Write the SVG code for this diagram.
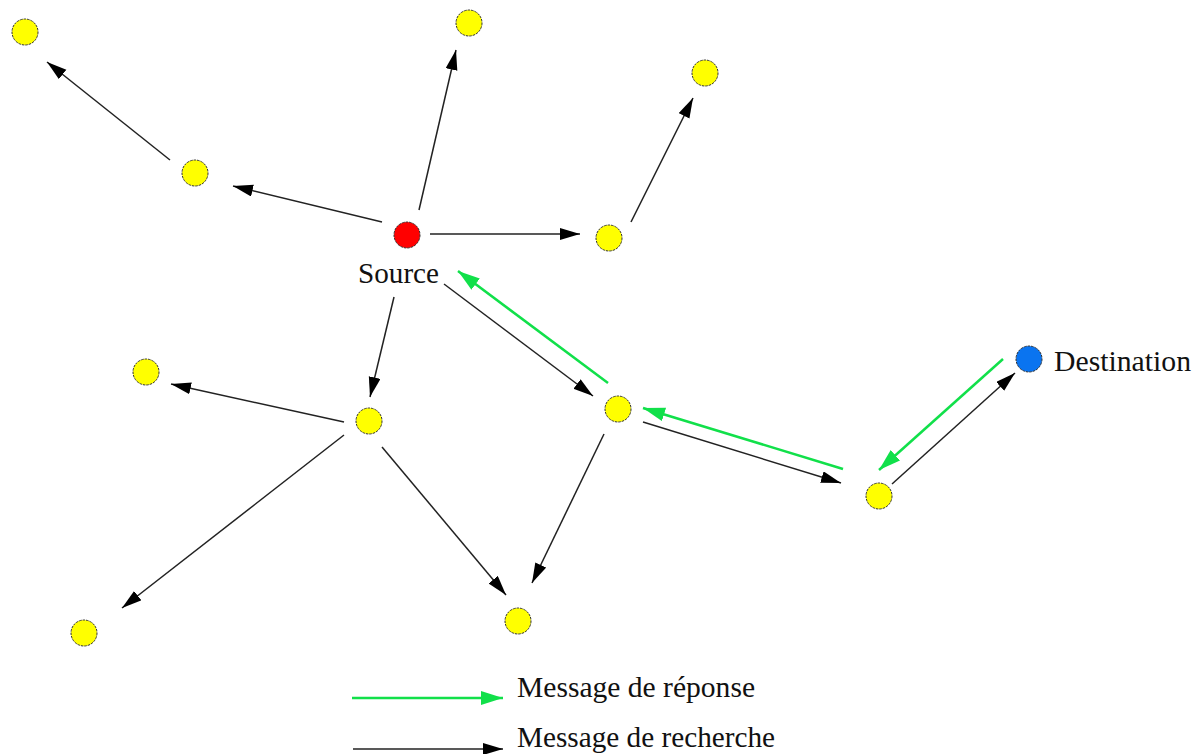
<svg xmlns="http://www.w3.org/2000/svg" width="1202" height="754" viewBox="0 0 1202 754">
<style>
.n{fill:#ffff00;stroke:#333;stroke-width:1;stroke-dasharray:2.5,1}
.blk{stroke:#222;stroke-width:1.5;fill:none;marker-end:url(#ab)}
.grn{stroke:#11e04a;stroke-width:2.5;fill:none;marker-end:url(#ag)}
text{font-family:"Liberation Serif","Times New Roman",serif;font-size:29px;fill:#111}
</style>
<defs>
<marker id="ab" markerUnits="userSpaceOnUse" markerWidth="22" markerHeight="14" refX="20" refY="6" orient="auto"><path d="M0,0 L20,6 L0,12 Z" fill="#000"/></marker>
<marker id="ag" markerUnits="userSpaceOnUse" markerWidth="24" markerHeight="16" refX="22" refY="7" orient="auto"><path d="M0,0 L22,7 L0,14 Z" fill="#11e04a"/></marker>
</defs>
<rect width="1202" height="754" fill="#fff"/>
<g id="connectors">
<line class="blk" x1="170" y1="160" x2="47" y2="62"/>
<line class="blk" x1="382" y1="222" x2="233" y2="186"/>
<line class="blk" x1="419" y1="210" x2="456" y2="50"/>
<line class="blk" x1="430" y1="234" x2="580" y2="234"/>
<line class="blk" x1="631" y1="222" x2="693" y2="98"/>
<line class="blk" x1="394" y1="297" x2="370" y2="397"/>
<line class="blk" x1="444" y1="284" x2="593" y2="396"/>
<line class="blk" x1="344" y1="422" x2="171" y2="384"/>
<line class="blk" x1="344" y1="435" x2="122" y2="608"/>
<line class="blk" x1="382" y1="447" x2="506" y2="595"/>
<line class="blk" x1="604" y1="434" x2="532" y2="583"/>
<line class="blk" x1="643" y1="422" x2="841" y2="483"/>
<line class="blk" x1="892" y1="484" x2="1015" y2="373"/>
<line class="grn" x1="1003" y1="359" x2="879" y2="470"/>
<line class="grn" x1="843" y1="469" x2="643" y2="408"/>
<line class="grn" x1="608" y1="383" x2="458" y2="271"/>
</g>
<g id="n1"><circle class="n" cx="25" cy="32" r="13"/></g>
<g id="n2"><circle class="n" cx="469" cy="23" r="13"/></g>
<g id="n3"><circle class="n" cx="705" cy="73" r="13"/></g>
<g id="n4"><circle class="n" cx="195" cy="173" r="13"/></g>
<g id="source"><circle class="n" style="fill:#ff0000" cx="407" cy="235" r="13"/><text x="358" y="283" textLength="81" lengthAdjust="spacingAndGlyphs">Source</text></g>
<g id="n5"><circle class="n" cx="609" cy="238" r="13"/></g>
<g id="n6"><circle class="n" cx="146" cy="372" r="13"/></g>
<g id="n7"><circle class="n" cx="369" cy="421" r="13"/></g>
<g id="n8"><circle class="n" cx="618" cy="409" r="13"/></g>
<g id="destination"><circle class="n" style="fill:#0a74f0" cx="1029" cy="359" r="13"/><text x="1054" y="371" textLength="137" lengthAdjust="spacingAndGlyphs">Destination</text></g>
<g id="n9"><circle class="n" cx="879" cy="496" r="13"/></g>
<g id="n10"><circle class="n" cx="84" cy="633" r="13"/></g>
<g id="n11"><circle class="n" cx="518" cy="621" r="13"/></g>
<g id="legend">
<line class="grn" x1="352" y1="698" x2="503" y2="698"/>
<text x="517" y="697" textLength="238" lengthAdjust="spacingAndGlyphs">Message de réponse</text>
<line class="blk" x1="353" y1="749" x2="503" y2="749"/>
<text x="517" y="747" textLength="258" lengthAdjust="spacingAndGlyphs">Message de recherche</text>
</g>
</svg>
